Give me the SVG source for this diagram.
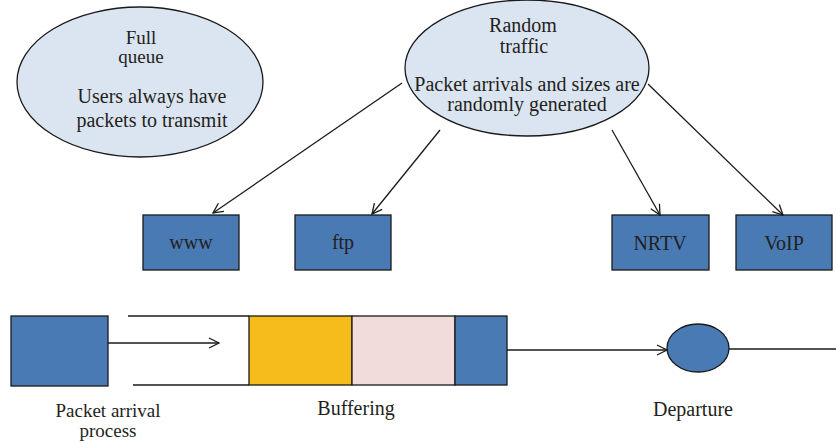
<svg xmlns="http://www.w3.org/2000/svg" width="836" height="444" viewBox="0 0 836 444">
<defs>
<style>
text{font-family:'Liberation Serif','Times New Roman',serif;font-size:20px;fill:#231f20;text-anchor:middle}
.sm{font-size:19px}
.ell{fill:#dbe5f1;stroke:#1a1a1a;stroke-width:1.3}
.blue{fill:#4a7ab4;stroke:#1a1a1a;stroke-width:1.3}
.ln{stroke:#1a1a1a;stroke-width:1.3;fill:none}
</style>
<marker id="arr" markerUnits="userSpaceOnUse" markerWidth="14" markerHeight="14" refX="11" refY="6" orient="auto">
<path d="M1,1 L11,6 L1,11" fill="none" stroke="#1a1a1a" stroke-width="1.3"/>
</marker>
</defs>
<g id="full-queue">
<ellipse class="ell" cx="140" cy="82" rx="123" ry="75"/>
<text class="sm" x="141" y="44">Full</text>
<text class="sm" x="141" y="63">queue</text>
<text x="152" y="103">Users always have</text>
<text x="152" y="127">packets to transmit</text>
</g>
<g id="random-traffic">
<ellipse class="ell" cx="527" cy="68" rx="122" ry="68"/>
<text x="523" y="32">Random</text>
<text x="524" y="53">traffic</text>
<text x="527" y="91">Packet arrivals and sizes are</text>
<text x="527" y="111">randomly generated</text>
</g>
<g id="www"><rect class="blue" x="143" y="215" width="96" height="55"/><text x="191" y="249">www</text></g>
<g id="ftp"><rect class="blue" x="295" y="215" width="96" height="55"/><text x="343" y="249">ftp</text></g>
<g id="nrtv"><rect class="blue" x="612" y="215" width="97" height="55"/><text x="660" y="250">NRTV</text></g>
<g id="voip"><rect class="blue" x="736" y="215" width="96" height="55"/><text x="784" y="250">VoIP</text></g>
<g id="arrival"><rect class="blue" x="11" y="316" width="97" height="70"/>
<text class="sm" x="108" y="417">Packet arrival</text><text class="sm" x="108" y="437">process</text></g>
<g id="buffer">
<line class="ln" x1="128" y1="316" x2="249" y2="316"/>
<line class="ln" x1="133" y1="385" x2="249" y2="385"/>
<rect x="249" y="316" width="103" height="69" fill="#f5bc1c" stroke="#1a1a1a" stroke-width="1.3"/>
<rect x="352" y="316" width="103" height="69" fill="#f2dbdb" stroke="#1a1a1a" stroke-width="1.3"/>
<rect class="blue" x="455" y="316" width="52" height="69"/>
<text x="356" y="415">Buffering</text>
</g>
<g id="departure"><ellipse class="blue" cx="698" cy="348" rx="31" ry="24"/><text x="693" y="416">Departure</text></g>
<g id="connectors">
<line class="ln" x1="402" y1="83" x2="213" y2="213" marker-end="url(#arr)"/>
<line class="ln" x1="440" y1="130" x2="372" y2="214" marker-end="url(#arr)"/>
<line class="ln" x1="612" y1="130" x2="660" y2="215" marker-end="url(#arr)"/>
<line class="ln" x1="648" y1="84" x2="783" y2="215" marker-end="url(#arr)"/>
<line class="ln" x1="108" y1="343" x2="219" y2="343" marker-end="url(#arr)"/>
<line class="ln" x1="507" y1="350" x2="667" y2="350" marker-end="url(#arr)"/>
<line class="ln" x1="729" y1="349" x2="836" y2="349"/>
</g>
</svg>
